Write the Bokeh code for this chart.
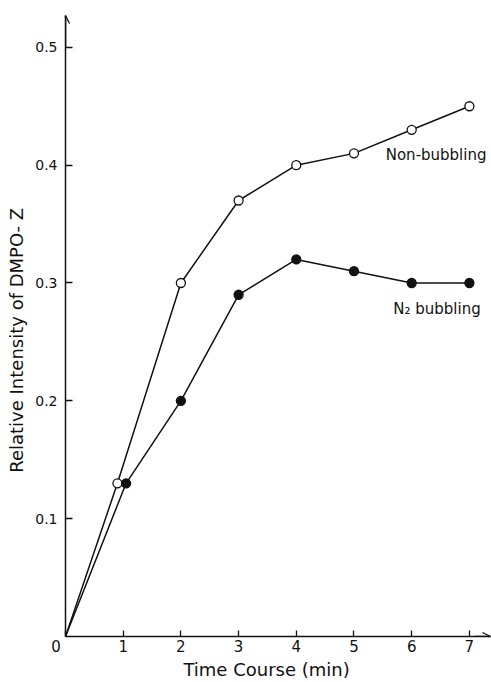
from bokeh.plotting import figure
from bokeh.models import Range1d, FixedTicker, Arrow, OpenHead, ColumnDataSource, Label
from bokeh.embed import file_html
from bokeh.resources import INLINE

# data
non_x = [0, 0.9, 2, 3, 4, 5, 6, 7]
non_y = [0, 0.13, 0.30, 0.37, 0.40, 0.41, 0.43, 0.45]
n2_x = [0, 1.05, 2, 3, 4, 5, 6, 7]
n2_y = [0, 0.13, 0.20, 0.29, 0.32, 0.31, 0.30, 0.30]
x_ticks = [0, 1, 2, 3, 4, 5, 6, 7]
y_ticks = [0.1, 0.2, 0.3, 0.4, 0.5]
x_title = "Time Course  (min)"
y_title = "Relative Intensity of  DMPO- Z"
label_non = "Non-bubbling"
label_n2 = "N\u2082 bubbling"

FONT = "DejaVu Sans"
NB = "\u00a0"
INK = "#111111"

p = figure(width=491, height=682, output_backend="svg", toolbar_location=None,
           x_range=Range1d(0, 7.366), y_range=Range1d(0, 0.527),
           min_border_left=65, min_border_right=1, min_border_top=15, min_border_bottom=44)
p.outline_line_color = None
p.grid.visible = False
p.background_fill_color = "white"

xa = p.xaxis[0]
xa.ticker = FixedTicker(ticks=x_ticks)
xa.major_label_overrides = {0: "0" + NB * 4}
xa.minor_tick_line_color = None
xa.major_tick_in = 6
xa.major_tick_out = 0
xa.axis_line_width = 1.5
xa.axis_line_color = INK
xa.major_tick_line_color = INK
xa.major_tick_line_width = 1.3
xa.major_label_text_font = FONT
xa.major_label_text_font_size = "15px"
xa.major_label_text_color = INK
xa.major_label_standoff = 1
xa.axis_label = x_title + NB * 3
xa.axis_label_text_font = FONT
xa.axis_label_text_font_size = "18px"
xa.axis_label_text_font_style = "normal"
xa.axis_label_text_color = INK
xa.axis_label_standoff = 0

ya = p.yaxis[0]
ya.ticker = FixedTicker(ticks=y_ticks)
ya.minor_tick_line_color = None
ya.major_tick_in = 7
ya.major_tick_out = 0
ya.axis_line_width = 1.5
ya.axis_line_color = INK
ya.major_tick_line_color = INK
ya.major_tick_line_width = 1.3
ya.major_label_text_font = FONT
ya.major_label_text_font_size = "14px"
ya.major_label_text_color = INK
ya.major_label_standoff = 8
ya.axis_label = y_title + NB * 4
ya.axis_label_text_font = FONT
ya.axis_label_text_font_size = "18px"
ya.axis_label_text_font_style = "normal"
ya.axis_label_text_color = INK
ya.axis_label_standoff = 5

src_non = ColumnDataSource(dict(x=non_x, y=non_y))
src_n2 = ColumnDataSource(dict(x=n2_x, y=n2_y))

p.line("x", "y", source=src_non, line_color=INK, line_width=1.5)
p.line("x", "y", source=src_n2, line_color=INK, line_width=1.5)
p.scatter(x=non_x[1:], y=non_y[1:], size=9, marker="circle",
          fill_color="white", line_color=INK, line_width=1.3)
p.scatter(x=n2_x[1:], y=n2_y[1:], size=9, marker="circle",
          fill_color=INK, line_color=INK, line_width=1.3)

p.add_layout(Label(x=5.55, y=0.409, text=label_non, text_font=FONT, text_color=INK,
                   text_font_size="15px", text_baseline="middle", text_align="left"))
p.add_layout(Label(x=5.68, y=0.278, text=label_n2, text_font=FONT, text_color=INK,
                   text_font_size="15px", text_baseline="middle", text_align="left"))

p.add_layout(Arrow(x_start=0, y_start=0.5, x_end=0, y_end=0.527, line_color=INK,
                   end=OpenHead(size=8, line_width=1.3, line_color=INK), line_width=1.5))
p.add_layout(Arrow(x_start=7.1, y_start=0, x_end=7.366, y_end=0, line_color=INK,
                   end=OpenHead(size=8, line_width=1.3, line_color=INK), line_width=1.5))

open("out.html", "w").write(file_html(p, INLINE))
